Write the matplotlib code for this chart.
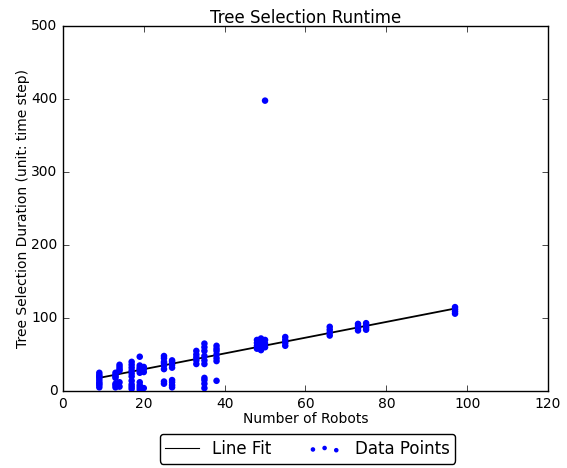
import matplotlib
matplotlib.use("Agg")
import matplotlib.pyplot as plt
import numpy as np

# Data (robot count -> list of runtime samples)
robots = [9, 13, 14, 17, 19, 20, 25, 27, 33, 35, 38, 48, 49, 50, 55, 66, 73, 75, 97]
durations = [
    [5, 8, 10, 12, 15, 18, 20, 22, 25],
    [5, 8, 10, 18, 20, 22, 25],
    [12, 28, 30, 33, 36, 6],
    [3, 6, 9, 14, 20, 24, 28, 32, 36, 40],
    [2, 5, 8, 12, 25, 28, 30, 32, 35, 47],
    [4, 26, 30, 33],
    [30, 35, 38, 40, 45, 48, 10, 13],
    [32, 36, 40, 42, 5, 8, 12, 15],
    [37, 42, 46, 50, 55],
    [37, 42, 48, 55, 60, 65, 4, 10, 15, 18],
    [41, 45, 50, 55, 58, 62, 14],
    [58, 62, 66, 70],
    [56, 60, 64, 68, 72],
    [60, 65, 70, 398],
    [62, 66, 70, 74],
    [76, 80, 84, 88],
    [83, 86, 89, 92],
    [84, 87, 90, 93],
    [106, 109, 112, 115],
]
fit_slope = 1.08
fit_intercept = 8.3

xs = np.concatenate([[r] * len(d) for r, d in zip(robots, durations)])
ys = np.concatenate([d for d in durations])

plt.style.use("classic")
plt.rcParams["font.family"] = ["DejaVu Sans"]

fig = plt.figure(figsize=(5.67, 4.68), dpi=100)
fig.patch.set_facecolor("white")
ax = fig.add_axes([0.111, 0.1645, 0.8555, 0.7795])

xfit = np.sort(np.array(robots, dtype=float))
ax.plot(xfit, fit_slope * xfit + fit_intercept, "k-", lw=1.3, label="Line Fit")
ax.scatter(xs, ys, s=22, c="b", edgecolors="none", label="Data Points", zorder=3)

ax.set_xlim(0, 120)
ax.set_ylim(0, 500)
ax.set_xticks(range(0, 121, 20))
ax.set_yticks(range(0, 501, 100))
ax.tick_params(labelsize=10)
ax.set_xlabel("Number of Robots", fontsize=10, labelpad=1)
ax.set_ylabel("Tree Selection Duration (unit: time step)", fontsize=10, labelpad=1)
ax.set_title("Tree Selection Runtime", fontsize=12, pad=2)

leg = ax.legend(loc="upper center", bbox_to_anchor=(0.504, -0.095), ncol=2,
                fancybox=True, scatterpoints=3, numpoints=1, fontsize=12,
                columnspacing=2.2, borderpad=0.35, markerscale=0.7)
leg.get_lines()[0].set_linewidth(0.8)

fig.savefig("out.png", dpi=100, facecolor="white")
